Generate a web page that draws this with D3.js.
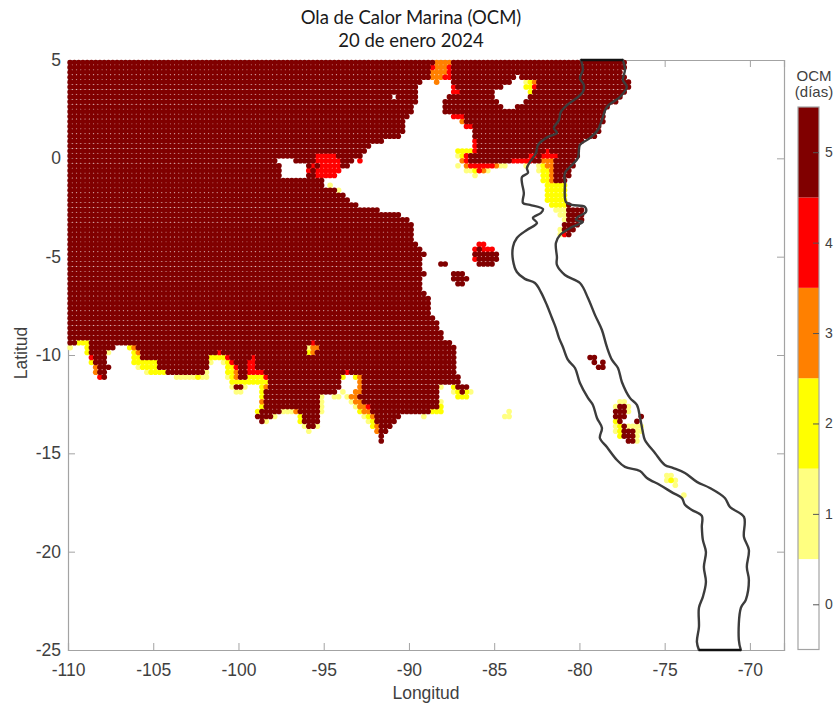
<!DOCTYPE html>
<html>
<head>
<meta charset="utf-8">
<script src="https://cdn.jsdelivr.net/npm/d3@7"></script>
<style>
  html, body { margin: 0; padding: 0; background: #fff; }
  svg { display: block; }
</style>
</head>
<body>
<div id="chart"></div>
<script>
const w = 836
const h = 704
const margin = { top: 60, bottom: 54, left: 68, right: 52 }

const levelColors = ["#ffffff", "#ffff80", "#ffff00", "#ff8000", "#ff0000", "#800000"]
const levelLabels = [0, 1, 2, 3, 4, 5]
const xTicks = [-110, -105, -100, -95, -90, -85, -80, -75, -70]
const yTicks = [-25, -20, -15, -10, -5, 0, 5]

// [lat, lon oeste, lon este] de cada tramo de celdas de 0.25 grados
const spansDias5 = [
  [4.875,-109.875,-88.625],[4.875,-87.375,-77.375],
  [4.625,-109.875,-88.875],[4.625,-87.375,-77.375],
  [4.375,-109.875,-88.875],[4.375,-87.375,-77.625],
  [4.125,-109.875,-88.875],[4.125,-87.375,-83.875],[4.125,-83.375,-77.375],
  [3.875,-109.875,-89.375],[3.875,-87.375,-84.125],[3.875,-82.375,-77.125],
  [3.625,-109.875,-89.625],[3.625,-87.125,-84.625],[3.625,-82.375,-77.125],
  [3.375,-109.875,-89.625],[3.375,-86.875,-85.125],[3.375,-82.625,-77.375],
  [3.125,-109.875,-91.125],[3.125,-90.625,-89.625],[3.125,-87.625,-85.125],[3.125,-82.875,-77.625],
  [2.875,-109.875,-89.625],[2.875,-87.875,-84.875],[2.875,-83.125,-77.875],
  [2.625,-109.875,-89.875],[2.625,-87.875,-84.625],[2.625,-83.625,-78.375],
  [2.375,-109.875,-89.875],[2.375,-87.875,-78.625],
  [2.125,-109.875,-90.125],[2.125,-86.625,-78.625],
  [1.875,-109.875,-90.375],[1.875,-86.625,-78.625],
  [1.625,-109.875,-90.375],[1.625,-86.125,-78.875],
  [1.375,-109.875,-90.375],[1.375,-86.125,-78.875],
  [1.125,-109.875,-90.625],[1.125,-86.125,-79.125],
  [0.875,-109.875,-91.625],[0.875,-85.875,-79.875],
  [0.625,-109.875,-92.375],[0.625,-85.875,-80.125],
  [0.375,-109.875,-92.625],[0.375,-85.875,-82.125],[0.375,-81.625,-80.125],
  [0.125,-109.875,-95.625],[0.125,-94.125,-92.875],[0.125,-86.375,-83.125],[0.125,-82.375,-82.375],[0.125,-81.125,-80.125],
  [-0.125,-109.875,-97.875],[-0.125,-96.625,-95.625],[-0.125,-93.875,-93.375],[-0.125,-86.375,-84.125],[-0.125,-82.625,-82.375],[-0.125,-81.375,-80.375],
  [-0.375,-109.875,-97.625],[-0.375,-95.875,-95.875],[-0.375,-95.375,-95.375],[-0.375,-93.875,-93.625],[-0.375,-81.375,-80.375],
  [-0.625,-109.875,-97.625],[-0.625,-95.625,-95.625],[-0.625,-81.375,-80.625],
  [-0.875,-109.875,-97.625],[-0.875,-95.875,-95.625],[-0.875,-81.375,-80.625],
  [-1.125,-109.875,-95.125],[-1.125,-81.375,-80.875],
  [-1.375,-109.875,-95.125],
  [-1.625,-109.875,-94.375],
  [-1.875,-109.875,-93.875],
  [-2.125,-109.875,-93.625],
  [-2.375,-109.875,-93.125],[-2.375,-80.625,-80.625],
  [-2.625,-109.875,-91.875],[-2.625,-80.625,-79.875],
  [-2.875,-109.875,-90.625],[-2.875,-80.625,-79.875],
  [-3.125,-109.875,-90.125],[-3.125,-80.625,-79.875],
  [-3.375,-109.875,-89.875],[-3.375,-80.875,-80.125],
  [-3.625,-109.875,-89.875],[-3.625,-80.875,-80.375],
  [-3.875,-109.875,-89.875],[-3.875,-80.625,-80.625],
  [-4.125,-109.875,-89.875],
  [-4.375,-109.875,-89.625],
  [-4.625,-109.875,-89.375],[-4.625,-85.875,-85.875],
  [-4.875,-109.875,-89.125],[-4.875,-86.125,-84.875],
  [-5.125,-109.875,-89.375],[-5.125,-85.875,-84.875],
  [-5.375,-109.875,-89.375],[-5.375,-88.125,-87.875],[-5.375,-85.875,-85.125],
  [-5.625,-109.875,-89.375],
  [-5.875,-109.875,-89.125],[-5.875,-87.375,-86.875],
  [-6.125,-109.875,-89.375],[-6.125,-87.375,-86.625],
  [-6.375,-109.875,-89.375],[-6.375,-87.125,-86.875],
  [-6.625,-109.875,-89.375],
  [-6.875,-109.875,-89.125],
  [-7.125,-109.875,-88.875],[-7.375,-109.875,-88.875],[-7.625,-109.875,-88.875],[-7.875,-109.875,-88.875],
  [-8.125,-109.875,-88.625],
  [-8.375,-109.875,-88.375],[-8.625,-109.875,-88.375],
  [-8.875,-109.875,-88.125],[-9.125,-109.875,-88.125],
  [-9.375,-109.875,-109.625],[-9.375,-108.625,-95.875],[-9.375,-95.375,-87.625],
  [-9.625,-108.625,-107.375],[-9.625,-105.875,-96.125],[-9.625,-95.125,-87.375],
  [-9.875,-108.625,-107.875],[-9.875,-105.625,-101.375],[-9.875,-100.875,-96.125],[-9.875,-95.375,-87.375],
  [-10.125,-108.375,-107.875],[-10.125,-105.625,-101.875],[-10.125,-100.375,-99.375],[-10.125,-98.875,-87.375],
  [-10.375,-108.375,-107.875],[-10.375,-104.625,-101.875],[-10.375,-100.125,-99.625],[-10.375,-98.875,-87.375],
  [-10.625,-108.125,-107.625],[-10.625,-104.625,-101.875],[-10.625,-99.875,-99.625],[-10.625,-98.875,-87.375],
  [-10.875,-108.125,-107.875],[-10.875,-104.125,-102.125],[-10.875,-99.875,-99.625],[-10.875,-98.375,-93.875],[-10.875,-93.375,-87.375],
  [-11.125,-107.875,-107.875],[-11.125,-99.875,-99.625],[-11.125,-98.125,-94.125],[-11.125,-92.625,-87.125],
  [-11.375,-98.125,-94.125],[-11.375,-92.625,-87.125],
  [-11.625,-100.125,-99.875],[-11.625,-98.125,-94.125],[-11.625,-92.625,-88.375],[-11.625,-87.125,-86.625],
  [-11.875,-98.375,-94.375],[-11.875,-92.625,-88.375],[-11.875,-86.875,-86.875],
  [-12.125,-98.375,-95.375],[-12.125,-92.875,-88.375],
  [-12.375,-98.375,-95.375],[-12.375,-92.625,-88.375],
  [-12.625,-98.375,-95.375],[-12.625,-92.125,-88.375],
  [-12.875,-98.625,-97.625],[-12.875,-96.375,-95.375],[-12.875,-92.125,-88.875],
  [-13.125,-98.875,-98.125],[-13.125,-96.125,-95.375],[-13.125,-91.875,-90.625],
  [-13.375,-98.625,-98.625],[-13.375,-96.125,-95.375],[-13.375,-91.875,-90.875],
  [-13.625,-95.875,-95.625],[-13.625,-91.625,-91.125],
  [-13.875,-91.625,-91.375],
  [-14.125,-91.625,-91.625],
  [-14.375,-91.625,-91.625],
  [-10.125,-79.375,-79.125],
  [-10.375,-79.125,-79.125],[-10.375,-78.625,-78.625],
  [-10.625,-78.875,-78.625],
  [-12.625,-77.625,-77.375],
  [-12.875,-77.875,-77.375],
  [-13.125,-77.875,-77.375],[-13.125,-76.375,-76.375],
  [-13.375,-77.625,-77.625],[-13.375,-76.625,-76.625],
  [-13.625,-77.375,-77.375],
  [-13.875,-77.375,-76.875],
  [-14.125,-77.375,-76.875],
  [-14.375,-77.125,-76.875]
]

const spansDias4 = [
  [4.625,-88.625,-88.625],[4.625,-87.625,-87.625],
  [4.375,-87.625,-87.625],
  [4.125,-87.875,-87.625],
  [3.625,-87.375,-87.375],[3.625,-82.625,-82.625],
  [3.375,-87.375,-87.125],
  [2.125,-87.375,-86.875],
  [1.625,-86.625,-86.375],
  [0.875,-86.125,-86.125],
  [0.625,-86.125,-86.125],
  [0.375,-86.125,-86.125],[0.375,-81.875,-81.875],
  [0.125,-95.375,-94.375],[0.125,-86.625,-86.625],[0.125,-82.875,-82.625],[0.125,-82.125,-81.375],
  [-0.125,-95.375,-94.125],[-0.125,-92.875,-92.875],[-0.125,-86.625,-86.625],[-0.125,-83.875,-82.875],
  [-0.375,-95.625,-95.625],[-0.375,-95.125,-94.125],[-0.375,-86.375,-85.125],
  [-0.625,-95.875,-95.875],[-0.625,-95.375,-94.125],[-0.625,-85.875,-85.875],
  [-0.875,-95.375,-94.375],
  [-3.875,-80.875,-80.875],
  [-4.375,-85.875,-85.625],
  [-4.625,-86.125,-86.125],[-4.625,-85.625,-85.125],
  [-5.125,-86.125,-86.125],
  [-9.375,-95.625,-95.625],
  [-9.875,-101.125,-101.125],
  [-10.125,-108.625,-108.625],[-10.125,-100.625,-100.625],[-10.125,-99.125,-99.125],
  [-10.375,-100.375,-100.375],[-10.375,-99.375,-99.125],
  [-10.625,-100.125,-100.125],[-10.625,-99.375,-99.125],
  [-10.875,-99.375,-98.625],[-10.875,-93.625,-93.625],
  [-11.125,-108.125,-108.125],[-11.125,-98.375,-98.375],
  [-12.625,-92.375,-92.375]
]

const spansDias3 = [
  [4.875,-88.375,-87.625],
  [4.625,-88.375,-87.875],
  [4.375,-88.625,-87.875],
  [4.125,-88.625,-88.125],
  [3.875,-88.375,-88.375],[3.875,-82.625,-82.625],
  [1.875,-86.875,-86.875],
  [-0.125,-86.875,-86.875],[-0.125,-82.125,-81.625],
  [-0.375,-86.625,-86.625],[-0.375,-84.875,-84.875],[-0.375,-81.875,-81.625],
  [-0.625,-85.625,-85.625],[-0.625,-81.625,-81.625],
  [-0.875,-81.625,-81.625],
  [-1.125,-81.625,-81.625],
  [-9.625,-106.125,-106.125],[-9.625,-95.625,-95.375],
  [-9.875,-105.875,-105.875],[-9.875,-95.625,-95.625],
  [-10.625,-108.375,-108.375],
  [-10.875,-108.375,-108.375],[-10.875,-100.125,-100.125],
  [-11.125,-100.125,-100.125],[-11.125,-92.875,-92.875],
  [-11.375,-92.875,-92.875],
  [-11.625,-98.375,-98.375],[-11.625,-92.875,-92.875],
  [-11.875,-93.125,-92.875],
  [-12.125,-93.375,-93.125],
  [-12.375,-98.625,-98.625],[-12.375,-93.125,-92.875],
  [-12.625,-92.875,-92.625],
  [-12.875,-96.625,-96.625],[-12.875,-92.625,-92.375],
  [-13.125,-92.125,-92.125],
  [-13.625,-91.875,-91.875],
  [-13.875,-91.875,-91.875]
]

const spansDias2 = [
  [3.875,-82.875,-82.875],
  [3.625,-83.125,-82.875],
  [3.375,-82.875,-82.875],
  [0.375,-87.125,-86.375],
  [0.125,-86.875,-86.875],
  [-0.375,-82.125,-82.125],
  [-0.625,-86.125,-86.125],[-0.625,-82.125,-81.875],
  [-0.875,-82.125,-81.875],
  [-1.125,-82.125,-81.875],
  [-1.375,-81.875,-80.875],
  [-1.625,-81.875,-80.875],
  [-1.875,-81.875,-80.875],
  [-2.125,-81.875,-80.875],
  [-2.375,-81.625,-80.875],
  [-9.375,-109.375,-108.875],
  [-9.625,-108.875,-108.875],[-9.625,-106.375,-106.375],
  [-9.875,-108.875,-108.875],[-9.875,-106.125,-106.125],[-9.875,-95.875,-95.875],
  [-10.125,-106.125,-105.875],[-10.125,-101.625,-100.875],
  [-10.375,-108.625,-108.625],[-10.375,-106.125,-104.875],[-10.375,-100.625,-100.625],
  [-10.625,-105.625,-104.875],[-10.625,-100.625,-100.375],
  [-10.875,-105.125,-104.375],[-10.875,-100.625,-100.375],
  [-11.125,-102.375,-102.375],[-11.125,-100.375,-100.375],[-11.125,-99.375,-98.625],[-11.125,-93.875,-93.875],[-11.125,-93.125,-93.125],
  [-11.375,-100.375,-98.375],
  [-11.625,-98.625,-98.625],[-11.625,-87.375,-87.375],
  [-11.875,-98.625,-98.625],[-11.875,-87.125,-87.125],[-11.875,-86.625,-86.625],
  [-12.125,-98.625,-98.625],[-12.125,-87.125,-86.625],
  [-12.625,-98.625,-98.625],[-12.625,-88.125,-88.125],
  [-12.875,-98.875,-98.875],[-12.875,-92.875,-92.875],[-12.875,-88.625,-88.125],
  [-13.125,-96.375,-96.375],[-13.125,-92.375,-92.375],
  [-13.375,-96.375,-96.375],[-13.375,-92.125,-92.125],[-13.375,-77.875,-77.875],
  [-13.625,-92.125,-92.125],[-13.625,-77.625,-77.625],
  [-13.875,-77.625,-77.625],
  [-14.125,-77.625,-77.625],
  [-16.375,-74.625,-74.625]
]

const spansDias1 = [
  [3.875,-83.125,-83.125],
  [0.125,-87.125,-87.125],
  [-0.375,-87.125,-87.125],[-0.375,-84.625,-84.375],[-0.375,-83.125,-83.125],[-0.375,-82.375,-82.375],
  [-0.625,-86.625,-86.375],[-0.625,-85.375,-85.375],[-0.625,-82.375,-82.375],
  [-0.875,-86.125,-86.125],
  [-1.375,-94.625,-94.625],
  [-1.625,-94.125,-94.125],
  [-2.625,-81.375,-80.875],
  [-2.875,-81.125,-80.875],
  [-3.125,-80.875,-80.875],
  [-3.625,-81.125,-81.125],
  [-3.875,-81.125,-81.125],
  [-9.625,-109.875,-109.875],[-9.625,-95.875,-95.875],
  [-9.875,-107.625,-107.625],
  [-10.375,-101.625,-101.625],[-10.375,-100.875,-100.875],
  [-10.625,-105.875,-105.875],
  [-10.875,-105.375,-105.375],[-10.875,-101.875,-101.875],
  [-11.125,-103.625,-102.625],[-11.125,-102.125,-101.875],[-11.125,-100.625,-100.625],
  [-11.625,-100.375,-100.375],[-11.625,-99.625,-99.625],[-11.625,-88.125,-88.125],
  [-11.875,-100.125,-99.875],[-11.875,-93.875,-93.875],[-11.875,-87.375,-87.375],[-11.875,-86.375,-86.375],
  [-12.125,-95.125,-95.125],[-12.125,-94.375,-94.125],[-12.125,-93.625,-93.625],
  [-12.375,-95.125,-95.125],[-12.375,-93.375,-93.375],[-12.375,-88.125,-88.125],[-12.375,-77.625,-77.375],
  [-12.625,-95.125,-95.125],[-12.625,-93.125,-93.125],[-12.625,-77.875,-77.875],[-12.625,-77.125,-77.125],
  [-12.875,-97.375,-96.875],[-12.875,-95.125,-95.125],[-12.875,-84.125,-84.125],[-12.875,-77.125,-77.125],
  [-13.125,-97.875,-97.875],[-13.125,-92.625,-92.625],[-13.125,-89.125,-89.125],[-13.125,-84.375,-84.125],
  [-13.375,-98.375,-98.375],[-13.375,-92.375,-92.375],
  [-13.625,-96.125,-96.125],[-13.625,-95.375,-95.375],[-13.625,-77.875,-77.875],[-13.625,-77.125,-76.375],
  [-13.875,-95.875,-95.875],[-13.875,-77.875,-77.875],[-13.875,-76.625,-76.375],
  [-14.125,-76.625,-76.625],
  [-14.375,-76.625,-76.625],
  [-16.125,-74.875,-74.625],
  [-16.375,-74.875,-74.875],[-16.375,-74.375,-74.375],
  [-16.625,-74.375,-74.375],
  [-17.125,-73.875,-73.875]
]

// franja costera, ida por el borde oeste y vuelta por el este
const bandLon = [-79.91,-79.8,-79.97,-79.74,-79.8,-80.15,-80.73,-81.09,-81.2,-81.5,-81.32,-81.85,-82.43,-82.55,-82.9,-83.08,-83.02,-83.37,-83.37,-83.26,-83.31,-82.9,-82.14,-82.26,-82.73,-82.49,-83.08,-83.67,-83.9,-83.9,-83.67,-83.2,-82.61,-82.26,-81.91,-81.61,-81.38,-81.2,-80.97,-80.67,-80.26,-79.97,-79.5,-79.21,-78.97,-78.68,-78.8,-78.39,-77.8,-77.33,-76.45,-76.04,-75.28,-74.52,-73.99,-73.81,-73.4,-72.82,-72.82,-72.76,-72.58,-72.7,-72.58,-72.76,-72.99,-72.99,-73.11,-72.99,
  -70.53,-70.65,-70.53,-70.24,-70.06,-70.18,-70.06,-70.35,-70.35,-71.17,-71.47,-72.35,-73.11,-73.81,-74.52,-74.99,-75.57,-76.16,-76.28,-76.45,-76.63,-77.04,-77.51,-77.74,-78.09,-78.39,-78.68,-79.09,-79.5,-79.97,-80.85,-81.32,-81.32,-81.38,-81.14,-80.44,-79.8,-80.21,-80.09,-79.62,-79.68,-80.44,-80.79,-80.85,-80.85,-80.44,-80.09,-80.03,-79.97,-79.39,-78.92,-78.68,-78.39,-77.63,-77.22,-77.45,-77.33,-77.45]
const bandLat = [5,4.49,4.08,3.73,3.37,3.07,2.71,2.36,1.95,1.54,1.29,1.09,0.68,0.27,-0.19,-0.49,-0.74,-0.95,-1.25,-1.76,-2.27,-2.37,-2.58,-2.78,-3.03,-3.29,-3.64,-4.05,-4.51,-5.17,-5.78,-6.13,-6.34,-6.8,-7.46,-8.12,-8.63,-9.13,-9.59,-10.25,-10.66,-11.42,-12.18,-12.54,-13.2,-13.71,-14.22,-14.68,-15.34,-15.69,-15.9,-16.25,-16.61,-17.01,-17.27,-17.62,-17.88,-18.18,-18.74,-19.4,-20.01,-20.78,-21.54,-22.3,-22.86,-23.83,-24.59,-25,
  -25,-24.49,-22.86,-22.45,-21.44,-20.78,-19.91,-19.25,-18.23,-17.73,-17.27,-16.76,-16.45,-16,-15.74,-15.59,-14.98,-14.32,-13.91,-13.15,-12.54,-12.18,-11.37,-10.66,-10.25,-9.59,-8.73,-7.96,-7.1,-6.34,-5.93,-5.42,-5.02,-4.3,-3.9,-3.49,-3.24,-3.13,-2.98,-2.73,-2.47,-2.37,-2.22,-1.25,-0.74,-0.34,0.02,0.42,0.68,1.03,1.44,1.95,2.61,3.12,3.63,3.98,4.49,5]

const x = d3.scaleLinear()
  .domain([-110, -68])
  .range([margin.left, w - margin.right])

const y = d3.scaleLinear()
  .domain([-25, 5])
  .range([h - margin.bottom, margin.top])

const svg = d3.select('#chart').append('svg')
  .attr('width', w)
  .attr('height', h)
  .attr('viewBox', `0 0 ${w} ${h}`)

const gray = '#a3a3a3'
const tickColor = '#3f3f3f'
const arial = "'Liberation Sans', Arial, sans-serif"

const styleAxis = g => g
  .call(g => g.select('.domain').attr('stroke', gray).attr('stroke-width', 1.2))
  .call(g => g.selectAll('.tick line').attr('stroke', gray).attr('stroke-width', 1))
  .call(g => g.selectAll('.tick text')
    .attr('fill', tickColor)
    .style('font-family', arial)
    .style('font-size', '17.5px'))

svg.append('g')
  .attr('transform', `translate(0,${y(-25)})`)
  .call(d3.axisBottom(x).tickValues(xTicks).tickFormat(d => d).tickSize(-7).tickPadding(14))
  .call(styleAxis)

svg.append('g')
  .attr('transform', `translate(${x(-110)},0)`)
  .call(d3.axisLeft(y).tickValues(yTicks).tickFormat(d => d).tickSize(-7).tickPadding(7))
  .call(styleAxis)

svg.append('g')
  .attr('transform', `translate(0,${y(5)})`)
  .call(d3.axisTop(x).tickValues(xTicks).tickFormat('').tickSize(-7))
  .call(styleAxis)

svg.append('g')
  .attr('transform', `translate(${x(-68)},0)`)
  .call(d3.axisRight(y).tickValues(yTicks).tickFormat('').tickSize(-7))
  .call(styleAxis)

// celdas, de menor a mayor duracion
const cells = (spans, level) => spans.flatMap(([lat, west, east]) =>
  d3.range(west, east + 0.01, 0.25).map(lon => ({ lon, lat, level })))

const allCells = [
  ...cells(spansDias1, 1),
  ...cells(spansDias2, 2),
  ...cells(spansDias3, 3),
  ...cells(spansDias4, 4),
  ...cells(spansDias5, 5)
]

svg.append('g').selectAll('circle')
  .data(allCells).enter()
  .append('circle')
    .attr('cx', d => x(d.lon))
    .attr('cy', d => y(d.lat))
    .attr('r', 2.8)
    .attr('fill', d => levelColors[d.level])

const bandPoints = d3.zip(bandLon, bandLat)
const westEnd = bandLat.indexOf(-25) + 1

const bandLine = d3.line()
  .x(d => x(d[0]))
  .y(d => y(d[1]))
  .curve(d3.curveCatmullRom.alpha(0.5))

svg.selectAll('path.band')
  .data([bandPoints.slice(0, westEnd), bandPoints.slice(westEnd)]).enter()
  .append('path')
    .attr('class', 'band')
    .attr('d', bandLine)
    .attr('fill', 'none')
    .attr('stroke', '#3c3c3c')
    .attr('stroke-width', 2.4)
    .attr('stroke-linecap', 'round')

// cierre de la franja sobre los bordes del mapa
svg.selectAll('path.band-close')
  .data([[bandPoints[westEnd - 1], bandPoints[westEnd]], [bandPoints[bandPoints.length - 1], bandPoints[0]]]).enter()
  .append('path')
    .attr('class', 'band-close')
    .attr('d', d3.line().x(d => x(d[0])).y(d => y(d[1])))
    .attr('fill', 'none')
    .attr('stroke', '#111')
    .attr('stroke-width', 2.4)

// colorbar
const cbar = { left: 798, right: 819, top: 107, bottom: 649.5 }
const yBar = d3.scaleLinear()
  .domain([-0.5, 5.5])
  .range([cbar.bottom, cbar.top])

svg.append('g').selectAll('rect')
  .data(levelLabels).enter()
  .append('rect')
    .attr('x', cbar.left)
    .attr('y', d => yBar(d + 0.5))
    .attr('width', cbar.right - cbar.left)
    .attr('height', d => yBar(d - 0.5) - yBar(d + 0.5))
    .attr('fill', d => levelColors[d])

svg.append('rect')
  .attr('x', cbar.left)
  .attr('y', cbar.top)
  .attr('width', cbar.right - cbar.left)
  .attr('height', cbar.bottom - cbar.top)
  .attr('fill', 'none')
  .attr('stroke', gray)
  .attr('stroke-width', 1.2)

svg.append('g')
  .attr('transform', `translate(${cbar.right},0)`)
  .call(d3.axisRight(yBar).tickValues(levelLabels).tickFormat(d => d).tickSize(-6).tickPadding(6))
  .call(g => g.select('.domain').remove())
  .call(g => g.selectAll('.tick line').attr('stroke', '#555').attr('stroke-width', 1))
  .call(g => g.selectAll('.tick text')
    .attr('fill', tickColor)
    .style('font-family', arial)
    .style('font-size', '14px'))

svg.selectAll('text.cbar-title')
  .data(['OCM', '(días)']).enter()
  .append('text')
    .attr('class', 'cbar-title')
    .attr('x', 814)
    .attr('y', (d, i) => 81 + i * 15.5)
    .attr('text-anchor', 'middle')
    .attr('fill', tickColor)
    .style('font-family', arial)
    .style('font-size', '15px')
    .text(d => d)

svg.append('text')
  .attr('x', 426)
  .attr('y', 699)
  .attr('text-anchor', 'middle')
  .attr('fill', tickColor)
  .style('font-family', arial)
  .style('font-size', '17.5px')
  .text('Longitud')

svg.append('text')
  .attr('transform', `translate(27,353) rotate(-90)`)
  .attr('text-anchor', 'middle')
  .attr('fill', tickColor)
  .style('font-family', arial)
  .style('font-size', '17.5px')
  .text('Latitud')

svg.selectAll('text.title')
  .data(['Ola de Calor Marina (OCM)', '20 de enero 2024']).enter()
  .append('text')
    .attr('class', 'title')
    .attr('x', 411)
    .attr('y', (d, i) => 24 + i * 22.5)
    .attr('text-anchor', 'middle')
    .attr('fill', '#1a1a1a')
    .style('font-family', "Lato, sans-serif")
    .style('font-size', '18.5px')
    .text(d => d)
</script>
</body>
</html>
